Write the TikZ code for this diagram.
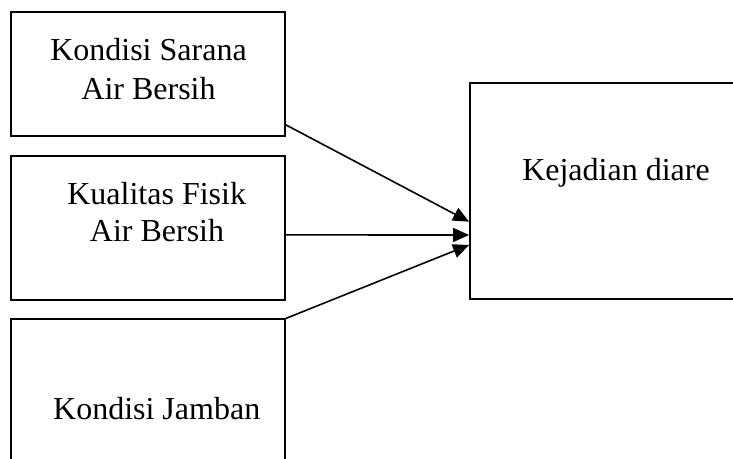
\documentclass[tikz,border=0pt]{standalone}
\usepackage{fontspec}
\setmainfont{Liberation Serif}
\usetikzlibrary{arrows.meta}
\begin{document}
\begin{tikzpicture}[x=0.75pt,y=-0.75pt,
  box/.style={draw=black, line width=1.4pt, rectangle, inner sep=0pt},
  lbl/.style={anchor=base, inner sep=0pt, font=\fontsize{24pt}{28pt}\selectfont},
  conn/.style={line width=1.2pt, -{Triangle[length=12pt,width=10.5pt]}}]
\useasboundingbox (0,0) rectangle (733,459);
\clip (0,0) rectangle (733,459);
\fill[white] (0,0) rectangle (733,459);
% boxes
\node[box, minimum width=205.5pt, minimum height=93pt] (b1) at (148,73.7) {};
\node[box, minimum width=205.5pt, minimum height=108.2pt] (b2) at (148,227.85) {};
\node[box, minimum width=205.5pt, minimum height=120.5pt] (b3) at (148,399.65) {};
\node[box, minimum width=206.25pt, minimum height=162.5pt] (b4) at (607.5,191) {};
% labels
\node[lbl] (t1a) at (148.5,61) {Kondisi Sarana};
\node[lbl] (t1b) at (148.5,100) {Air Bersih};
\node[lbl] (t2a) at (156.7,205) {Kualitas Fisik};
\node[lbl] (t2b) at (157,241.7) {Air Bersih};
\node[lbl] (t3) at (156.7,420) {Kondisi Jamban};
\node[lbl] (t4) at (616,180.7) {Kejadian diare};
% connectors
\draw[conn] ([yshift=8.8pt]b1.south east) -- ([yshift=-23pt]b4.west);
\draw[conn] ([yshift=-5.3pt]b2.east) -- ([yshift=-33pt]b4.west);
\draw[conn] (b3.north east) -- ([yshift=-40.5pt]b4.west);
\end{tikzpicture}
\end{document}
